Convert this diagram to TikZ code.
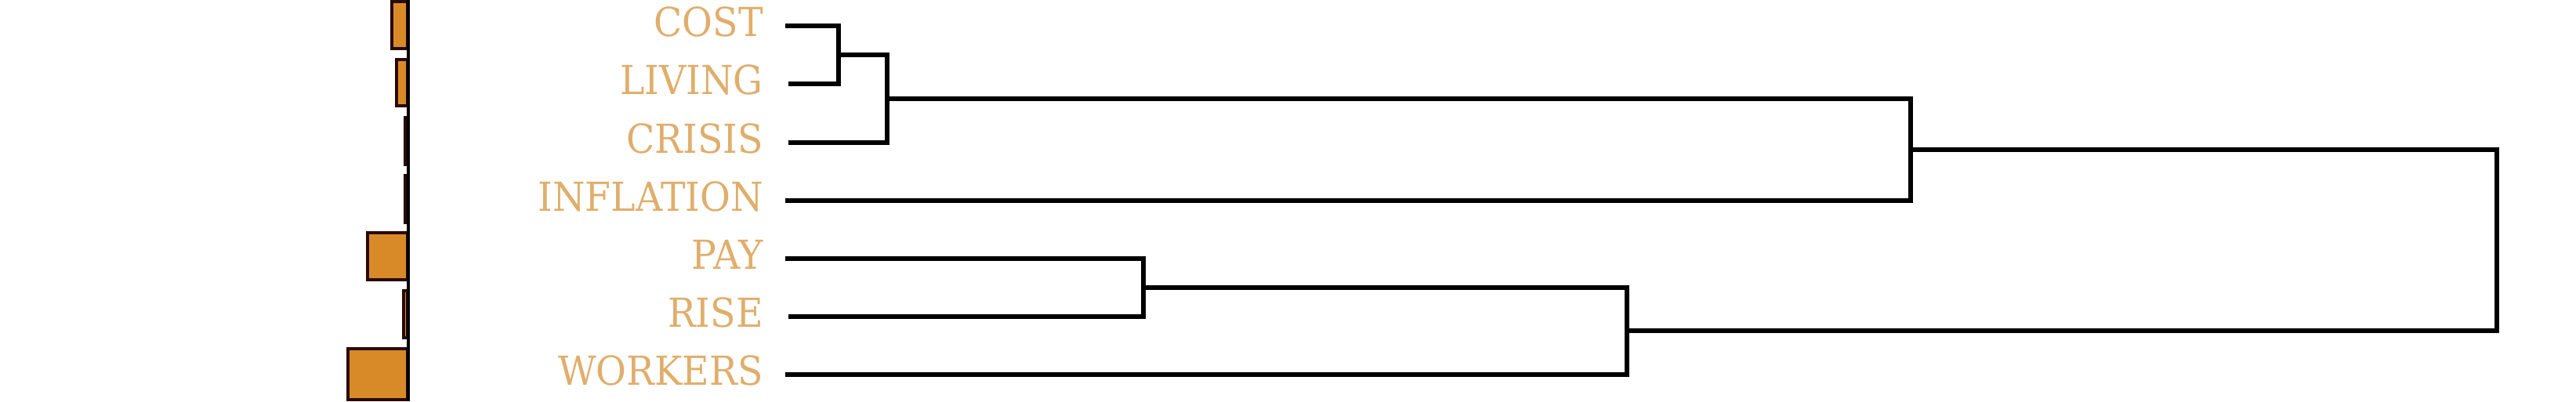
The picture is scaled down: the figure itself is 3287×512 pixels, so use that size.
\documentclass[tikz,border=0pt]{standalone}
\usepackage{fontspec}
\newfontfamily\wordfont[FakeStretch=0.93]{DejaVu Serif}
\definecolor{barfill}{RGB}{217,138,40}
\definecolor{barline}{RGB}{40,10,0}
\definecolor{wordcol}{RGB}{224,174,108}
\tikzset{
  word/.style={anchor=base east, text=wordcol, inner sep=0pt, font=\wordfont\fontsize{51}{52}\selectfont},
  bar/.style={draw=barline, line width=3.5pt, fill=barfill},
  link/.style={line width=5.5pt, line join=miter}
}
\begin{document}
\begin{tikzpicture}[x=1pt, y=-1pt]
            \useasboundingbox (0,0) rectangle (3287,512);
            % bars
            \draw [bar] (500,2) rectangle (520,62);
            \draw [bar] (506,76) rectangle (520,135);
            \draw [bar] (517,150) rectangle (520,210);
            \draw [bar] (517,224) rectangle (520,284);
            \draw [bar] (469,297) rectangle (520,357);
            \draw [bar] (515,371) rectangle (520,431);
            \draw [bar] (444,445) rectangle (520,510);
            \draw [line width=4pt] (521,0) -- (521,512);
            % labels
            \node [word] (cost) at (974,46) {COST};
            \node [word] (living) at (974,120) {LIVING};
            \node [word] (crisis) at (974,195) {CRISIS};
            \node [word] (inflation) at (974,269) {INFLATION};
            \node [word] (pay) at (974,343) {PAY};
            \node [word] (rise) at (974,417) {RISE};
            \node [word] (workers) at (974,491) {WORKERS};
            % leaves
            \coordinate (cost-l) at (1002,33);
            \coordinate (living-l) at (1006,107);
            \coordinate (crisis-l) at (1006,182);
            \coordinate (inflation-l) at (1002,256);
            \coordinate (pay-l) at (1002,330);
            \coordinate (rise-l) at (1006,404);
            \coordinate (workers-l) at (1002,478);
            % merges
            \coordinate (m1) at (1070,70);
            \coordinate (m2) at (1132,126);
            \coordinate (m3) at (2438,191);
            \coordinate (m4) at (1459,367);
            \coordinate (m5) at (2076,422);
            \coordinate (top) at (3186,307);
            \draw [link] (cost-l) -| (m1) |- (living-l);
            \draw [link] (m1) -| (m2) |- (crisis-l);
            \draw [link] (m2) -| (m3) |- (inflation-l);
            \draw [link] (pay-l) -| (m4) |- (rise-l);
            \draw [link] (m4) -| (m5) |- (workers-l);
            \draw [link] (m3) -| (top) |- (m5);
        \end{tikzpicture}
\end{document}
